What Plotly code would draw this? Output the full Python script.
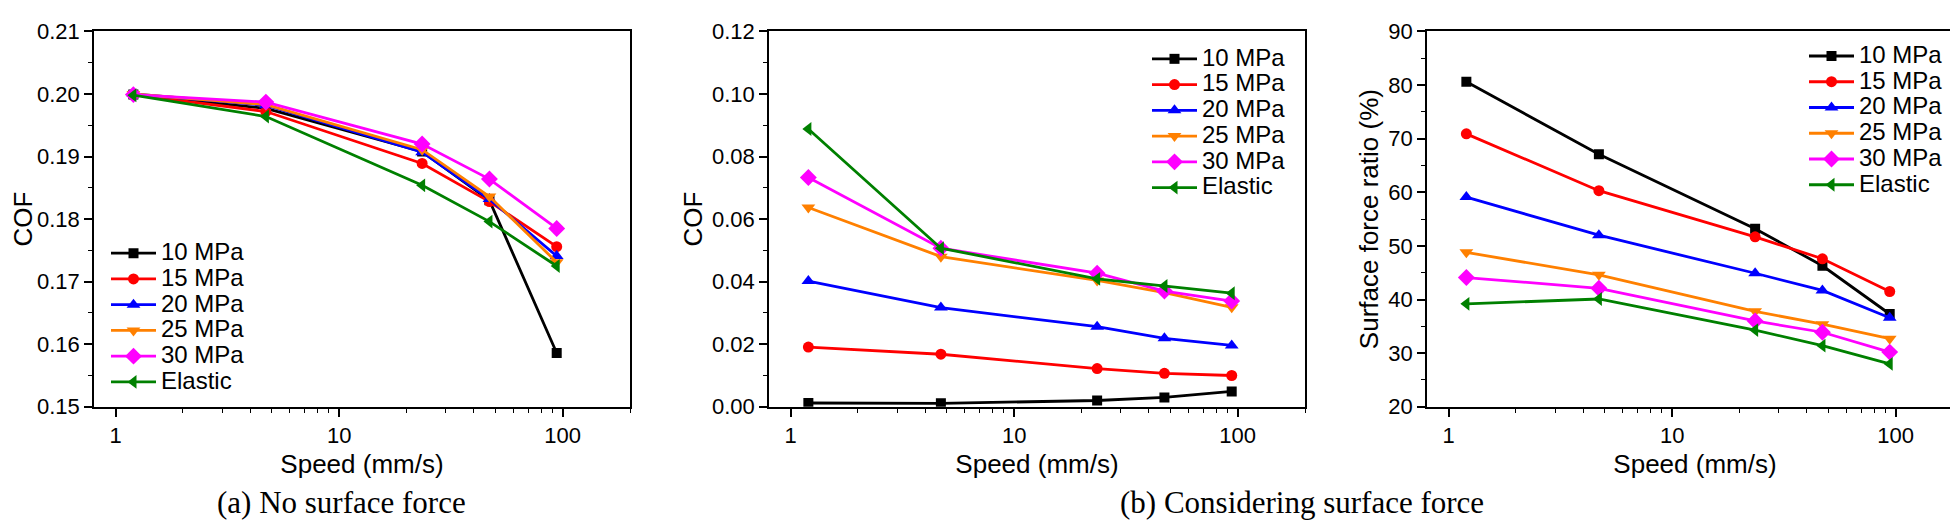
import math
import plotly.graph_objects as go

# ---------------- data ----------------
speed = [1.2, 4.7, 23.5, 47, 94]  # mm/s
series_names = ["10 MPa", "15 MPa", "20 MPa", "25 MPa", "30 MPa", "Elastic"]

# (a) No surface force - COF
cof_a_10 = [0.1999, 0.1977, 0.1908, 0.1830, 0.1586]
cof_a_15 = [0.1999, 0.1972, 0.1889, 0.1828, 0.1756]
cof_a_20 = [0.2000, 0.1982, 0.1907, 0.1832, 0.1741]
cof_a_25 = [0.2000, 0.1983, 0.1911, 0.1836, 0.1731]
cof_a_30 = [0.1999, 0.1987, 0.1920, 0.1864, 0.1785]
cof_a_el = [0.1998, 0.1964, 0.1854, 0.1796, 0.1725]

# (b) Considering surface force - COF
cof_b_10 = [0.0012, 0.0011, 0.0020, 0.0030, 0.0049]
cof_b_15 = [0.0191, 0.0168, 0.0122, 0.0107, 0.0100]
cof_b_20 = [0.0402, 0.0317, 0.0256, 0.0219, 0.0196]
cof_b_25 = [0.0637, 0.0480, 0.0404, 0.0365, 0.0318]
cof_b_30 = [0.0733, 0.0507, 0.0427, 0.0370, 0.0338]
cof_b_el = [0.0888, 0.0507, 0.0409, 0.0386, 0.0363]

# (b) Surface force ratio (%)
sfr_10 = [80.6, 67.1, 53.2, 46.3, 37.3]
sfr_15 = [70.9, 60.3, 51.7, 47.6, 41.5]
sfr_20 = [59.1, 52.0, 44.9, 41.7, 36.6]
sfr_25 = [48.8, 44.6, 37.8, 35.4, 32.7]
sfr_30 = [44.1, 42.1, 36.0, 33.9, 30.2]
sfr_el = [39.2, 40.1, 34.3, 31.4, 28.0]

x_ticks = [1, 10, 100]
x_ticktext = ["1", "10", "100"]
x_minor = [2, 3, 4, 5, 6, 7, 8, 9, 20, 30, 40, 50, 60, 70, 80, 90, 200]

# ---------------- styles ----------------
colors = ["#000000", "#FF0000", "#0000FF", "#FF8000", "#FF00FF", "#008000"]
symbols = ["square", "circle", "triangle-up", "triangle-down", "diamond", "triangle-left"]
msizes = [10, 11, 12, 12, 13, 12]

W, H = 1958, 528
FONT = "Liberation Sans, Arial, sans-serif"
LEG_TEXT = 24

fig = go.Figure()

panels = [
    ([cof_a_10, cof_a_15, cof_a_20, cof_a_25, cof_a_30, cof_a_el], "x", "y", "legend"),
    ([cof_b_10, cof_b_15, cof_b_20, cof_b_25, cof_b_30, cof_b_el], "x2", "y2", "legend2"),
    ([sfr_10, sfr_15, sfr_20, sfr_25, sfr_30, sfr_el], "x3", "y3", "legend3"),
]

for data, xa, ya, lg in panels:
    for i, (name, vals) in enumerate(zip(series_names, data)):
        fig.add_trace(go.Scatter(
            x=speed, y=vals,
            name=f'<span style="font-size:{LEG_TEXT}px">{name}</span>',
            mode="lines+markers",
            xaxis=xa, yaxis=ya, legend=lg,
            line=dict(color=colors[i], width=2.8),
            marker=dict(symbol=symbols[i], size=msizes[i], color=colors[i],
                        line=dict(width=0)),
        ))

def px_x(p):
    return p / W

def px_y(p):
    return 1 - p / H

x_domains = [(86, 622), (761, 1297), (1419, 1955)]
y_dom = [px_y(406), px_y(12)]

xr = [math.log10(0.8), math.log10(200)]

common_axis = dict(
    showline=True, linecolor="black", linewidth=1.6, mirror=True,
    ticks="outside", ticklen=8, tickwidth=1.6, tickcolor="black",
    showgrid=False, zeroline=False, ticklabeloverflow="allow",
    tickfont=dict(family=FONT, size=22, color="black"),
)

y_specs = [
    dict(range=[0.15, 0.21], dtick=0.01, tick0=0.15, tickformat=".2f", minor_dtick=0.005, title="COF"),
    dict(range=[0.0, 0.12], dtick=0.02, tick0=0.0, tickformat=".2f", minor_dtick=0.01, title="COF"),
    dict(range=[20, 90], dtick=10, tick0=20, tickformat="d", minor_dtick=5, title="Surface force ratio (%)"),
]

layout_axes = {}
for k in range(3):
    sfx = "" if k == 0 else str(k + 1)
    layout_axes["xaxis" + sfx] = dict(
        common_axis,
        type="log", range=xr,
        domain=[px_x(x_domains[k][0]), px_x(x_domains[k][1])],
        anchor="y" + sfx,
        tickmode="array", tickvals=x_ticks, ticktext=x_ticktext,
        minor=dict(ticks="outside", ticklen=4, tickwidth=1.4, tickcolor="black",
                   tickmode="array", tickvals=x_minor, showgrid=False),
        title=dict(text="Speed (mm/s)", font=dict(family=FONT, size=26, color="black"), standoff=8),
    )
    ys = y_specs[k]
    layout_axes["yaxis" + sfx] = dict(
        common_axis,
        range=ys["range"], dtick=ys["dtick"], tick0=ys["tick0"], tickformat=ys["tickformat"],
        domain=y_dom, anchor="x" + sfx,
        minor=dict(ticks="outside", ticklen=4, tickwidth=1.4, tickcolor="black",
                   dtick=ys["minor_dtick"], showgrid=False),
        title=dict(text=ys["title"], font=dict(family=FONT, size=26, color="black"), standoff=2),
    )

legend_common = dict(
    font=dict(family=FONT, size=17.5, color="black"),
    bgcolor="rgba(0,0,0,0)", borderwidth=0,
    xanchor="left", yanchor="top", itemwidth=45,
    tracegroupgap=0, itemclick=False,
)

fig.update_layout(
    width=W, height=H,
    margin=dict(l=0, r=0, t=0, b=0),
    paper_bgcolor="white", plot_bgcolor="white",
    showlegend=True,
    legend=dict(legend_common, x=px_x(98), y=px_y(226)),
    legend2=dict(legend_common, x=px_x(1139), y=px_y(22)),
    legend3=dict(legend_common, x=px_x(1796), y=px_y(19)),
    annotations=[
        dict(text="(a) No surface force", x=px_x(333), y=px_y(507), xref="paper", yref="paper",
             showarrow=False, xanchor="center", yanchor="middle",
             font=dict(family="Liberation Serif, Times New Roman, serif", size=31, color="black")),
        dict(text="(b) Considering surface force", x=px_x(1294), y=px_y(507), xref="paper", yref="paper",
             showarrow=False, xanchor="center", yanchor="middle",
             font=dict(family="Liberation Serif, Times New Roman, serif", size=31, color="black")),
    ],
    **layout_axes,
)

fig.write_html("out.html")
